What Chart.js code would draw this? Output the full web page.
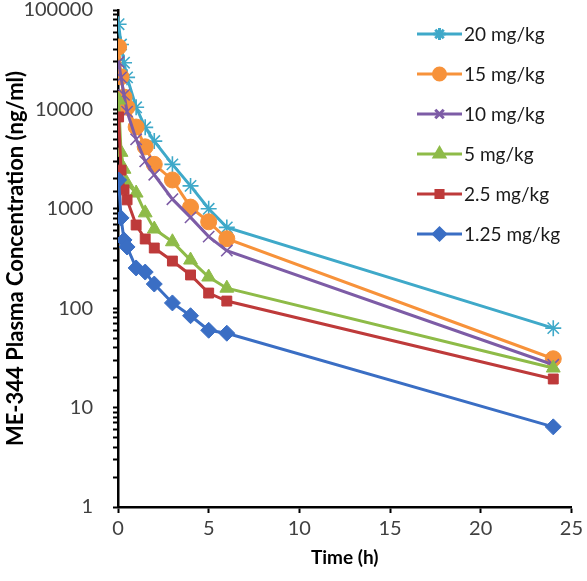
<!DOCTYPE html>
<html>
<head>
<meta charset="utf-8">
<script src="https://cdn.jsdelivr.net/npm/chart.js@4.4.1/dist/chart.umd.min.js"></script>
<style>
  html, body { margin: 0; padding: 0; background: #fff; }
  #wrap { width: 587px; height: 581px; position: relative; }
</style>
</head>
<body>
<div id="wrap"><canvas id="myChart"></canvas></div>
<script>
// sampling times (h)
var times = [0.033, 0.167, 0.333, 0.5, 1, 1.5, 2, 3, 4, 5, 6, 24];

// plasma concentration (ng/ml) per dose group
var dose20 = [72000, 45000, 29500, 21000, 10500, 6600, 4800, 2800, 1700, 1000, 650, 63];
var dose15 = [42500, 21300, 13300, 10500, 6650, 4200, 2800, 1950, 1040, 740, 500, 31];
var dose10 = [30000, 21000, 14000, 9500, 5000, 3000, 2200, 1250, 820, 525, 380, 27];
var dose5 = [12400, 3700, 2500, 1800, 1440, 910, 626, 466, 305, 206, 159, 25];
var dose2_5 = [8400, 2450, 1550, 1230, 687, 497, 403, 298, 216, 142, 118, 19.4];
var dose1_25 = [1950, 810, 486, 413, 254, 231, 175, 113, 84, 60, 56, 6.4];

var labels = ['20 mg/kg', '15 mg/kg', '10 mg/kg', '5 mg/kg', '2.5 mg/kg', '1.25 mg/kg'];
var series = [dose20, dose15, dose10, dose5, dose2_5, dose1_25];
var colors = ['#3FA9C9', '#F7923A', '#7D5CA6', '#8EBB48', '#BE3A3A', '#3A6EC4'];
var styles = ['star', 'circle', 'crossRot', 'triangle', 'rect', 'rectRot'];
var radii = [8, 8, 8, 8, 7, 8];

var FONT = 'Lato, "Open Sans", sans-serif';

function pts(arr) {
  return arr.map(function (v, i) { return { x: times[i], y: v }; });
}

function isLineStyle(s) { return s == 'star' || s == 'crossRot'; }

var datasets = series.map(function (s, i) {
  return {
    label: labels[i],
    data: pts(s),
    borderColor: colors[i],
    backgroundColor: colors[i],
    borderWidth: 3,
    pointStyle: styles[i],
    pointRadius: radii[i],
    pointBorderWidth: isLineStyle(styles[i]) ? 1.6 : 1,
    pointBorderColor: colors[i],
    pointBackgroundColor: colors[i],
    tension: 0,
    order: 6 - i
  };
});

// y axis title + legend inside the plot, Excel style
var extras = {
  id: 'extras',
  afterDraw: function (chart) {
    var ctx = chart.ctx;
    var area = chart.chartArea;
    ctx.save();
    // y title, centred on the plot
    ctx.translate(16, (area.top + area.bottom) / 2);
    ctx.rotate(-Math.PI / 2);
    ctx.font = 'bold 22px ' + FONT;
    ctx.fillStyle = '#000';
    ctx.textAlign = 'center';
    ctx.textBaseline = 'middle';
    ctx.fillText('ME-344 Plasma Concentration (ng/ml)', 0, 0);
    ctx.restore();

    // legend
    ctx.save();
    for (var i = 0; i < labels.length; i++) {
      var y = 34 + 40 * i;
      ctx.strokeStyle = colors[i];
      ctx.lineWidth = 3;
      ctx.beginPath();
      ctx.moveTo(417, y);
      ctx.lineTo(462, y);
      ctx.stroke();
      ctx.fillStyle = colors[i];
      ctx.strokeStyle = colors[i];
      Chart.helpers.drawPoint(ctx, {
        pointStyle: styles[i],
        radius: radii[i] - 2,
        rotation: 0,
        borderWidth: 1
      }, 439.5, y);
      ctx.fillStyle = '#1a1a1a';
      ctx.font = '19px ' + FONT;
      ctx.textAlign = 'left';
      ctx.textBaseline = 'middle';
      ctx.fillText(labels[i], 464, y + 1);
    }
    ctx.restore();
  }
};

const config = {
  type: 'line',
  data: { datasets: datasets },
  options: {
    responsive: false,
    animation: false,
    layout: { padding: { top: 0, right: 12, left: 0, bottom: 0 } },
    plugins: {
      legend: { display: false },
      tooltip: { enabled: false },
      title: { display: false }
    },
    scales: {
      x: {
        type: 'linear',
        min: 0,
        max: 25,
        ticks: {
          stepSize: 5,
          color: '#404040',
          font: { family: FONT, size: 20 },
          padding: 4
        },
        grid: {
          drawOnChartArea: false,
          tickLength: 6,
          tickColor: '#000',
          tickWidth: 2
        },
        border: { color: '#000', width: 2.5 },
        title: {
          display: true,
          text: 'Time (h)',
          color: '#000',
          font: { family: FONT, size: 19, weight: 'bold' },
          padding: { top: 4, bottom: 12 }
        },
        afterFit: function (scale) { scale.height = 74; }
      },
      y: {
        type: 'logarithmic',
        min: 1,
        max: 100000,
        ticks: {
          autoSkip: false,
          color: '#404040',
          font: { family: FONT, size: 20 },
          padding: 20,
          callback: function (v) {
            var l = Math.log10(v);
            return Math.abs(l - Math.round(l)) < 1e-9 ? String(v) : '';
          }
        },
        grid: {
          drawOnChartArea: false,
          tickLength: 5,
          tickColor: '#000',
          tickWidth: 2
        },
        border: { color: '#000', width: 2.5 },
        afterFit: function (scale) {
          scale.width = 118;
          scale.paddingTop = 10;
          scale.paddingBottom = 0;
        }
      }
    }
  },
  plugins: [extras]
};

var cv = document.getElementById('myChart');
cv.width = 587;
cv.height = 581;
const myChart = new Chart(cv, config);
</script>
</body>
</html>
